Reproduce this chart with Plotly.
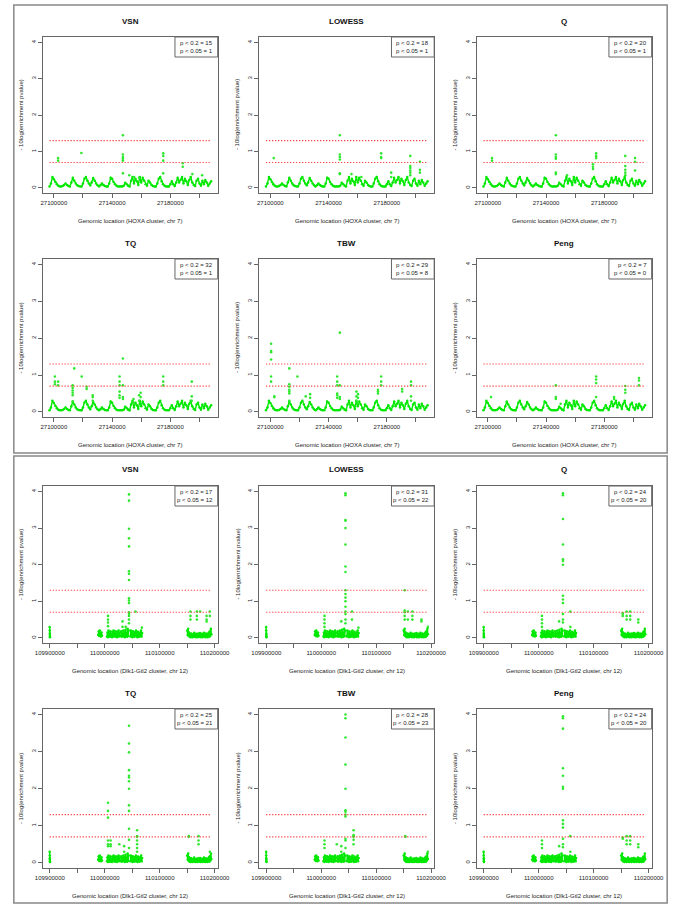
import numpy as np
import plotly.graph_objects as go

W, H = 685, 911
FONT = "Liberation Sans, Arial, Helvetica, sans-serif"
GREEN = "#00e800"
GREEN_PT = "#30e830"

methods = ["VSN", "LOWESS", "Q", "TQ", "TBW", "Peng"]

hoxa_p02 = [15, 18, 20, 32, 29, 7]
hoxa_p005 = [1, 1, 1, 1, 8, 0]
dlk_p02 = [17, 31, 24, 25, 28, 24]
dlk_p005 = [12, 22, 20, 21, 23, 20]

hoxa_xlabel = "Genomic location (HOXA cluster, chr 7)"
dlk_xlabel = "Genomic location (Dlk1-Gtl2 cluster, chr 12)"
ylabel = "- 10log(enrichment pvalue)"

hoxa_tick_vals = [27100000, 27120000, 27140000, 27160000, 27180000, 27200000]
hoxa_tick_text = ["27100000", "", "27140000", "", "27180000", ""]
dlk_tick_vals = [109900000, 109950000, 110000000, 110050000, 110100000, 110150000, 110200000]
dlk_tick_text = ["109900000", "", "110000000", "", "110100000", "", "110200000"]
y_tick_vals = [0, 1, 2, 3, 4]
thresholds = [1.301, 0.699]

# HOXA baseline (probe tiling, shared by all methods)
hoxa_base_span = [27097000, 27208000]
hoxa_base_val = [
    0.04, 0.12, 0.30, 0.24, 0.16, 0.10, 0.06, 0.04, 0.04, 0.05,
    0.08, 0.12, 0.08, 0.05, 0.04, 0.15, 0.28, 0.20, 0.12, 0.07,
    0.05, 0.04, 0.04, 0.12, 0.25, 0.30, 0.20, 0.12, 0.07, 0.15,
    0.27, 0.20, 0.12, 0.07, 0.04, 0.07, 0.12, 0.08, 0.05, 0.04,
    0.04, 0.12, 0.28, 0.25, 0.16, 0.10, 0.06, 0.04, 0.04, 0.04,
    0.04, 0.06, 0.14, 0.10, 0.06, 0.04, 0.20, 0.30, 0.12, 0.25,
    0.18, 0.08, 0.30, 0.15, 0.28, 0.20, 0.10, 0.06, 0.20, 0.15,
    0.08, 0.05, 0.04, 0.04, 0.12, 0.25, 0.30, 0.18, 0.10, 0.06,
    0.04, 0.04, 0.04, 0.10, 0.18, 0.10, 0.05, 0.15, 0.28, 0.15,
    0.22, 0.30, 0.12, 0.25, 0.18, 0.08, 0.22, 0.30, 0.15, 0.08,
    0.05, 0.20, 0.25, 0.12, 0.06, 0.20, 0.10, 0.22, 0.15, 0.06,
    0.12, 0.18,
]

# Dlk1-Gtl2 baseline clusters (probe tiling, shared by all methods)
dlk_base_spans = [
    [109899700, 109900300], [109988000, 109995000], [110004000, 110027000],
    [110029000, 110043500], [110046500, 110068000], [110150000, 110194000],
]
dlk_c1_val = [0.30, 0.20, 0.12, 0.08, 0.04, 0.02]
dlk_c2_val = [0.08, 0.18, 0.05, 0.20, 0.10, 0.04, 0.15, 0.06]
dlk_c3_val = [0.04, 0.15, 0.02, 0.20, 0.06, 0.12, 0.03, 0.18, 0.05, 0.10, 0.02, 0.16, 0.04,
              0.20, 0.07, 0.13, 0.03, 0.18, 0.05, 0.11, 0.02, 0.17, 0.06, 0.20, 0.04, 0.14]
dlk_c4_val = [0.05, 0.18, 0.03, 0.12, 0.06, 0.20, 0.04, 0.15, 0.02, 0.22, 0.07, 0.14, 0.03,
              0.25, 0.05, 0.20]
dlk_c5_val = [0.04, 0.20, 0.06, 0.14, 0.02, 0.18, 0.05, 0.11, 0.03, 0.16, 0.07, 0.20, 0.04,
              0.12, 0.02, 0.17, 0.05, 0.10, 0.03, 0.15, 0.06, 0.20, 0.04, 0.13]
dlk_c6_val = [0.20, 0.08, 0.25, 0.05, 0.15, 0.03, 0.10, 0.02, 0.12, 0.04,
              0.08, 0.02, 0.10, 0.05, 0.14, 0.03, 0.09, 0.02, 0.11, 0.04,
              0.07, 0.02, 0.12, 0.05, 0.09, 0.03, 0.13, 0.02, 0.08, 0.04,
              0.11, 0.02, 0.10, 0.05, 0.14, 0.03, 0.08, 0.02, 0.12, 0.04,
              0.09, 0.02, 0.11, 0.05, 0.15, 0.03, 0.18, 0.06, 0.25, 0.10]

# Per-method probes above the baseline: position and the values seen there
hoxa_vsn_pos = [27102900, 27118900, 27147400, 27151800, 27155100, 27158500, 27175100, 27188500, 27195100, 27201800]
hoxa_vsn_val = [[0.82, 0.75], [0.96], [1.45, 0.92, 0.85, 0.8, 0.75, 0.4], [0.35], [0.3], [0.28],
                [0.95, 0.88, 0.75, 0.4], [0.68, 0.58], [0.38], [0.35]]
hoxa_lowess_pos = [27102300, 27147700, 27155700, 27162500, 27176100, 27183000, 27196100, 27202700]
hoxa_lowess_val = [[0.82], [1.45, 0.92, 0.85, 0.78, 0.4, 0.38], [0.38], [0.3], [0.95, 0.85, 0.82],
                   [0.42, 0.3], [0.88, 0.6, 0.55, 0.48, 0.42, 0.35], [0.72, 0.5, 0.42]]
hoxa_q_pos = [27102900, 27146700, 27154400, 27172200, 27174400, 27194400, 27201100]
hoxa_q_val = [[0.82, 0.75], [1.45, 0.92, 0.85, 0.8, 0.42, 0.38], [0.35], [0.65, 0.58, 0.52],
              [0.95, 0.88, 0.82], [0.88, 0.6, 0.5, 0.42, 0.35], [0.82, 0.72, 0.48]]
hoxa_tq_pos = [27100700, 27102900, 27112900, 27114000, 27119100, 27122500, 27126700, 27145100,
               27147400, 27154700, 27158500, 27159600, 27175100, 27194700]
hoxa_tq_val = [[0.96, 0.82, 0.75], [0.82, 0.72], [0.72, 0.65, 0.58, 0.52, 0.45, 0.28], [1.18], [0.96],
               [0.68, 0.62], [0.45, 0.4, 0.3], [0.96, 0.82, 0.72, 0.55, 0.45, 0.38],
               [1.45, 0.72, 0.4, 0.35], [0.35, 0.25], [0.45, 0.3], [0.52, 0.4], [0.96, 0.82, 0.72],
               [0.82, 0.42, 0.3]]
hoxa_tbw_pos = [27100500, 27102700, 27113000, 27118600, 27124300, 27127300, 27145900, 27147700,
                27159100, 27160200, 27173900, 27176100, 27190500, 27196600]
hoxa_tbw_val = [[1.85, 1.65, 1.62, 1.42, 0.96, 0.82], [0.42, 0.4], [1.18, 0.75, 0.68, 0.6, 0.55, 0.5, 0.3],
                [0.96], [0.42], [0.48, 0.38], [0.96, 0.82, 0.72, 0.5, 0.45, 0.38], [2.15, 0.72, 0.4, 0.35],
                [0.55, 0.42, 0.3], [0.48, 0.38, 0.25], [0.6, 0.55, 0.5], [0.96, 0.82, 0.72], [0.62, 0.55],
                [0.82, 0.72, 0.42, 0.3]]
hoxa_peng_pos = [27102200, 27146700, 27150000, 27174400, 27186700, 27194400, 27203800]
hoxa_peng_val = [[0.4], [0.72, 0.4, 0.35], [0.22], [0.96, 0.88, 0.78, 0.4], [0.4, 0.35],
                 [0.7, 0.6, 0.52], [0.92, 0.85, 0.72]]

dlk_vsn_pos = [110005900, 110032300, 110038200, 110044100, 110055900, 110067600, 110155900,
               110167600, 110173500, 110185300, 110191200]
dlk_vsn_val = [[0.6, 0.5, 0.42, 0.32], [0.45, 0.3], [0.3],
               [3.92, 3.75, 2.98, 2.72, 2.5, 1.82, 1.75, 1.58, 1.08, 1.02, 0.95, 0.7, 0.65, 0.6, 0.5, 0.4],
               [0.72], [0.28], [0.72, 0.6, 0.5], [0.72, 0.6, 0.5], [0.72], [0.6, 0.5, 0.45], [0.72, 0.6]]
dlk_lowess_pos = [110005900, 110036500, 110044100, 110055900, 110067600, 110151800, 110157600,
                  110165900, 110182300, 110194100]
dlk_lowess_val = [[0.6, 0.5, 0.4, 0.3], [0.45],
                  [3.95, 3.9, 3.22, 3.2, 3.0, 2.55, 1.95, 1.8, 1.3, 1.2, 1.1, 1.0, 0.85, 0.72, 0.65, 0.5, 0.4],
                  [0.72, 0.5], [0.28], [1.3, 0.75, 0.7, 0.6, 0.5], [0.72, 0.5], [0.72, 0.6, 0.5],
                  [0.5, 0.45], [0.3]]
dlk_q_pos = [110005900, 110037100, 110044100, 110057600, 110152900, 110160000, 110166500, 110181200]
dlk_q_val = [[0.6, 0.5, 0.4, 0.3], [0.45],
             [3.95, 3.9, 3.25, 2.55, 2.15, 2.1, 2.0, 1.15, 1.05, 0.95, 0.65, 0.5, 0.42],
             [0.72, 0.3], [0.68, 0.65, 0.6], [0.72, 0.6, 0.5], [0.72, 0.6, 0.5], [0.5, 0.42]]
dlk_tq_pos = [110005900, 110010600, 110026500, 110035300, 110044100, 110058800, 110152900,
              110170600, 110191200]
dlk_tq_val = [[1.62, 1.4, 1.22, 0.6, 0.5, 0.45], [0.6, 0.5, 0.45], [0.5], [0.45, 0.3],
              [3.7, 3.22, 2.98, 2.5, 2.35, 2.3, 2.2, 2.0, 1.55, 1.4, 0.92, 0.62, 0.4],
              [0.88, 0.72, 0.7, 0.6, 0.5, 0.4, 0.3], [0.72, 0.7], [0.72, 0.6, 0.5], [0.3]]
dlk_tbw_pos = [110005900, 110028200, 110036500, 110044100, 110058800, 110152900, 110194100]
dlk_tbw_val = [[0.6, 0.5, 0.4], [0.5], [0.45, 0.3],
               [4.0, 3.9, 3.38, 2.65, 2.0, 1.42, 1.38, 1.3, 1.25, 0.65, 0.6, 0.4],
               [0.88, 0.75, 0.72, 0.7, 0.62, 0.5], [0.72, 0.7], [0.3]]
dlk_peng_pos = [110005900, 110037100, 110044100, 110057600, 110152900, 110160000, 110166500, 110181200]
dlk_peng_val = [[0.6, 0.5, 0.4], [0.45],
                [3.95, 3.9, 3.62, 2.55, 2.35, 2.05, 2.0, 1.15, 1.05, 0.95, 0.65, 0.5, 0.42],
                [0.72, 0.3], [0.68, 0.65], [0.72, 0.6, 0.5], [0.72, 0.6, 0.5], [0.5, 0.42]]

hoxa_x_range = [27092500, 27212500]
dlk_x_range = [109887500, 110205500]
y_range = [-0.14, 4.15]

# ---------------- build ----------------
hoxa_bx = list(np.linspace(hoxa_base_span[0], hoxa_base_span[1], len(hoxa_base_val)))
hoxa_by = list(hoxa_base_val)
dlk_bx, dlk_by = [], []
for span, vals in zip(dlk_base_spans, [dlk_c1_val, dlk_c2_val, dlk_c3_val, dlk_c4_val, dlk_c5_val, dlk_c6_val]):
    dlk_bx.extend(np.linspace(span[0], span[1], len(vals)))
    dlk_by.extend(vals)
    dlk_bx.append(None)
    dlk_by.append(None)

hoxa_out = [(hoxa_vsn_pos, hoxa_vsn_val), (hoxa_lowess_pos, hoxa_lowess_val), (hoxa_q_pos, hoxa_q_val),
            (hoxa_tq_pos, hoxa_tq_val), (hoxa_tbw_pos, hoxa_tbw_val), (hoxa_peng_pos, hoxa_peng_val)]
dlk_out = [(dlk_vsn_pos, dlk_vsn_val), (dlk_lowess_pos, dlk_lowess_val), (dlk_q_pos, dlk_q_val),
           (dlk_tq_pos, dlk_tq_val), (dlk_tbw_pos, dlk_tbw_val), (dlk_peng_pos, dlk_peng_val)]

cols = [(36, 216), (259, 439), (483, 663)]
rows = [(37, 193), (259, 417), (486, 643), (709, 868)]

fig = go.Figure()
layout = dict(width=W, height=H, margin=dict(l=0, r=0, t=0, b=0), paper_bgcolor="white",
              plot_bgcolor="white", showlegend=False, font=dict(family=FONT, color="#222"))
annotations, shapes = [], []

for k in range(12):
    grp = k // 6
    m = k % 6
    r = k // 3
    c = k % 3
    n = k + 1
    xa = "x" if n == 1 else f"x{n}"
    ya = "y" if n == 1 else f"y{n}"
    xl, xr = cols[c]
    yt, yb = rows[r]
    if grp == 0:
        bx, by = hoxa_bx, hoxa_by
        pos, vals = hoxa_out[m]
        tv, tt, xr_ = hoxa_tick_vals, hoxa_tick_text, hoxa_x_range
        xlabel = hoxa_xlabel
        p02, p005 = hoxa_p02[m], hoxa_p005[m]
    else:
        bx, by = dlk_bx, dlk_by
        pos, vals = dlk_out[m]
        tv, tt, xr_ = dlk_tick_vals, dlk_tick_text, dlk_x_range
        xlabel = dlk_xlabel
        p02, p005 = dlk_p02[m], dlk_p005[m]
    ox = [p for p, vs in zip(pos, vals) for _ in vs]
    oy = [v for vs in vals for v in vs]

    fig.add_trace(go.Scatter(x=bx, y=by, mode="lines+markers", xaxis=xa, yaxis=ya,
                             line=dict(color=GREEN, width=1.4),
                             marker=dict(size=2.5, color=GREEN, line=dict(width=0))))
    fig.add_trace(go.Scatter(x=ox, y=oy, mode="markers", xaxis=xa, yaxis=ya,
                             marker=dict(size=2.6, color=GREEN_PT, line=dict(width=0))))

    xs = [v for v in bx if v is not None]
    xmin, xmax = float(min(xs)), float(max(xs))
    for t in thresholds:
        shapes.append(dict(type="line", xref=xa, yref=ya, x0=xmin, x1=xmax, y0=t, y1=t,
                           line=dict(color="rgb(255,70,70)", width=1.1, dash="1.3px,1.7px")))

    axkey = "xaxis" if n == 1 else f"xaxis{n}"
    aykey = "yaxis" if n == 1 else f"yaxis{n}"
    layout[axkey] = dict(domain=[xl / W, xr / W], range=xr_, anchor=ya, tickvals=tv, ticktext=tt,
                         showgrid=False, zeroline=False, showline=True, mirror=True,
                         linecolor="#666", linewidth=1, ticks="outside", ticklen=4,
                         tickcolor="#666", tickfont=dict(size=6, family=FONT, color="#222"))
    layout[aykey] = dict(domain=[1 - yb / H, 1 - yt / H], range=y_range, anchor=xa,
                         tickvals=y_tick_vals, ticktext=[str(v) for v in y_tick_vals],
                         tickangle=-90, showgrid=False, zeroline=False, showline=True, mirror=True,
                         linecolor="#666", linewidth=1, ticks="outside", ticklen=4,
                         tickcolor="#666", tickfont=dict(size=6, family=FONT, color="#222"))

    cx = (xl + xr) / 2
    annotations.append(dict(text=f"<b>{methods[m]}</b>", x=cx / W, y=1 - (yt - 16) / H,
                            xref="paper", yref="paper", showarrow=False,
                            font=dict(size=8, family=FONT, color="#111"),
                            xanchor="center", yanchor="middle"))
    annotations.append(dict(text=xlabel, x=cx / W, y=1 - (yb + 28) / H, xref="paper", yref="paper",
                            showarrow=False, font=dict(size=6, family=FONT, color="#222"),
                            xanchor="center", yanchor="middle"))
    annotations.append(dict(text=ylabel, x=(xl - 23) / W, y=1 - ((yt + yb) / 2) / H, xref="paper",
                            yref="paper", showarrow=False, textangle=-90,
                            font=dict(size=6, family=FONT, color="#222"),
                            xanchor="center", yanchor="middle"))
    # legend box
    shapes.append(dict(type="rect", xref="paper", yref="paper", x0=(xr - 44) / W, x1=xr / W,
                       y0=1 - (yt + 20) / H, y1=1 - yt / H, line=dict(color="#666", width=1),
                       fillcolor="rgba(0,0,0,0)"))
    annotations.append(dict(text=f"p < 0.2 = {p02}", x=(xr - 3) / W, y=1 - (yt + 6.3) / H,
                            xref="paper", yref="paper", showarrow=False, xanchor="right",
                            yanchor="middle", font=dict(size=6, family=FONT, color="#222")))
    annotations.append(dict(text=f"p < 0.05 = {p005}", x=(xr - 3) / W, y=1 - (yt + 13.7) / H,
                            xref="paper", yref="paper", showarrow=False, xanchor="right",
                            yanchor="middle", font=dict(size=6, family=FONT, color="#222")))

# outer frames
shapes.append(dict(type="rect", xref="paper", yref="paper", x0=6 / W, x1=679 / W,
                   y0=1 - 453 / H, y1=1 - 5 / H, line=dict(color="#888", width=1.5)))
shapes.append(dict(type="rect", xref="paper", yref="paper", x0=6 / W, x1=679 / W,
                   y0=1 - 903 / H, y1=1 - 456 / H, line=dict(color="#888", width=1.5)))

layout["annotations"] = annotations
layout["shapes"] = shapes
fig.update_layout(**layout)
fig.write_html("out.html", config={"displayModeBar": False},
               post_script="document.body.style.margin='0px';")
